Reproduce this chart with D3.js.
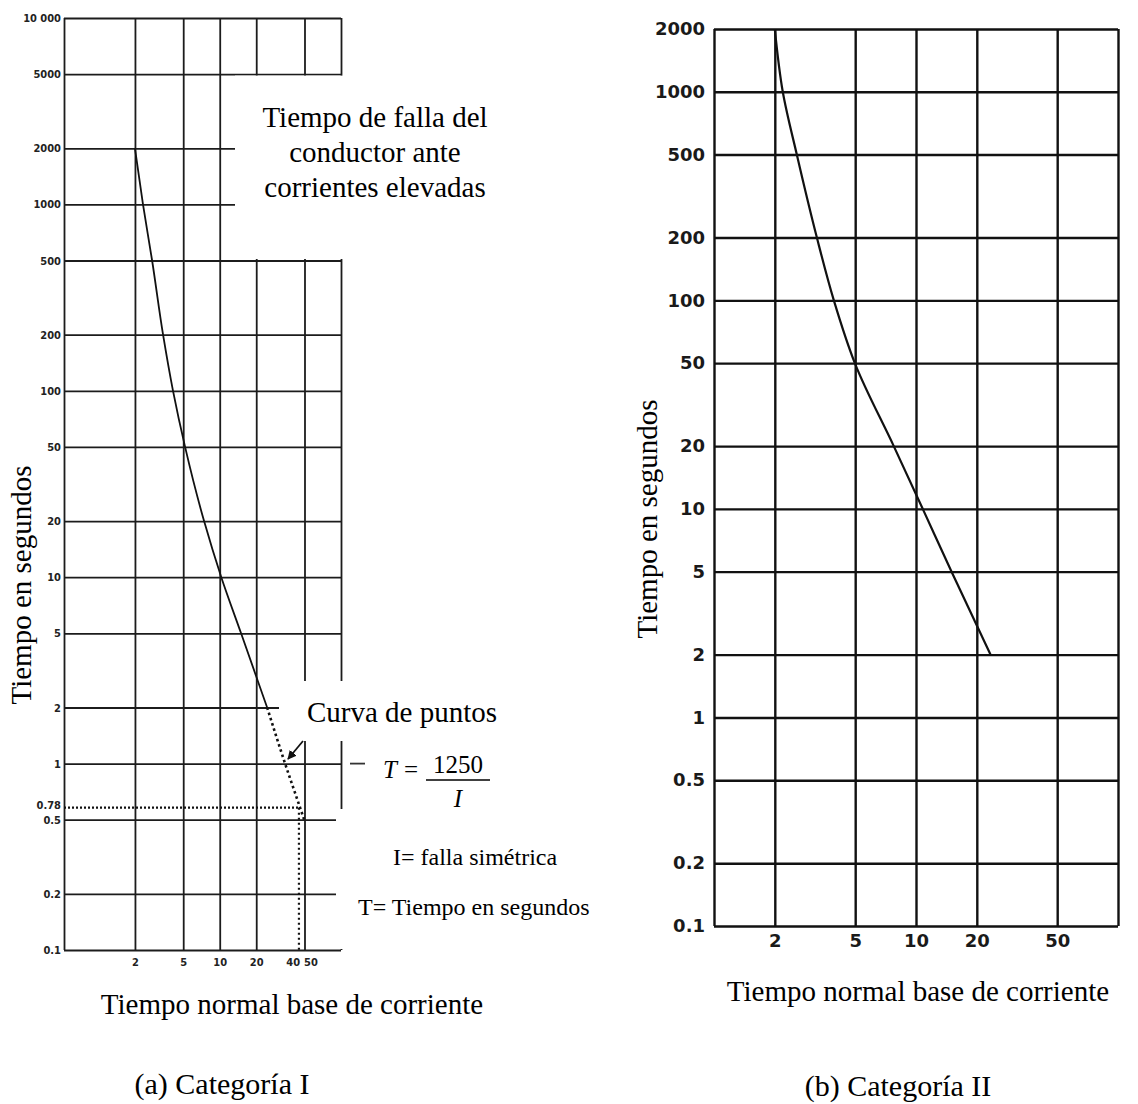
<!DOCTYPE html>
<html><head><meta charset="utf-8">
<script src="https://cdn.jsdelivr.net/npm/d3@7"></script>
<style>body{margin:0;background:#fff} svg{display:block}</style>
</head><body>
<svg id="c" width="1138" height="1104"></svg>
<script>
// ---------- DATA: Categoría I ----------
const gridTimesA = [10000,5000,2000,1000,500,200,100,50,20,10,5,2,1,0.5,0.2,0.1];
const timeLabelsA = ["10 000","5000","2000","1000","500","200","100","50","20","10","5","2","1","0.5","0.2","0.1"];
const gridCurrentsA = [2,5,10,20,50];
const currentLabelsA = [2,5,10,20,40,50];
const curveSolidA = [[2,2000],[2.33,1000],[2.77,500],[3.41,200],[4.12,100],[5.18,50],[7.43,20],[10.3,10],[15.0,5],[24.6,2]];
const curveDottedA = [[24.6,2],[34.6,1],[46,0.58],[49.7,0.5]];
const refCurrentA = 45;
const refTimeA = 0.58;
const refTimeLabelA = "0.78";

// ---------- DATA: Categoría II ----------
const gridTimesB = [2000,1000,500,200,100,50,20,10,5,2,1,0.5,0.2,0.1];
const timeLabelsB = ["2000","1000","500","200","100","50","20","10","5","2","1","0.5","0.2","0.1"];
const gridCurrentsB = [2,5,10,20,50];
const currentLabelsB = ["2","5","10","20","50"];
const curveB = [[2,2000],[2.19,1000],[2.57,500],[3.23,200],[3.92,100],[4.98,50],[7.76,20],[10.8,10],[15.0,5],[23.4,2]];

// ---------- TEXTS ----------
const yTitle = "Tiempo en segundos";
const xTitle = "Tiempo normal base de corriente";
const captionA = "(a) Categoría I";
const captionB = "(b) Categoría II";
const noteLines = ["Tiempo de falla del","conductor ante","corrientes elevadas"];
const dottedNote = "Curva de puntos";
const legendLines = ["I= falla simétrica","T= Tiempo en segundos"];

const svg = d3.select("#c");
const serif = "'Liberation Serif','Times New Roman',serif";
const condensed = "'DejaVu Sans Condensed','DejaVu Sans',sans-serif";

// ---------- SCALES ----------
const xA = d3.scaleLog().domain([0.52,100]).range([64,341]);
const yA = d3.scaleLog().domain([0.1,10000]).range([950,18]);
const xB = d3.scaleLog().domain([1,100]).range([714,1118]);
const yB = d3.scaleLog().domain([0.1,2000]).range([926,29]);

// ================= CHART A =================
const gA = svg.append("g");
const wA = xA.range()[1]-xA.range()[0];
const hA = yA.range()[0]-yA.range()[1];

const yAxA = gA.append("g").attr("transform",`translate(${xA.range()[0]},0)`)
  .call(d3.axisLeft(yA).tickValues(gridTimesA).tickFormat((d,i)=>timeLabelsA[i]).tickSize(-wA).tickPadding(3));
yAxA.select(".domain").remove();
yAxA.selectAll("line").attr("stroke","#1c1c1c").attr("stroke-width",1.8);
yAxA.selectAll("text").attr("font-family",condensed).attr("font-weight","bold").attr("font-size",11).attr("fill","#222");

const xGridA = gA.append("g").attr("transform",`translate(0,${yA.range()[0]})`)
  .call(d3.axisBottom(xA).tickValues([xA.domain()[0],...gridCurrentsA,xA.domain()[1]]).tickFormat("").tickSize(-hA));
xGridA.select(".domain").remove();
xGridA.selectAll("line").attr("stroke","#1c1c1c").attr("stroke-width",1.8);

const xLabA = gA.append("g").attr("transform",`translate(0,${yA.range()[0]})`)
  .call(d3.axisBottom(xA).tickValues(currentLabelsA).tickFormat(d3.format("d")).tickSize(0).tickPadding(8));
xLabA.select(".domain").remove();
xLabA.selectAll("text").attr("font-family",condensed).attr("font-weight","bold").attr("font-size",11).attr("fill","#222")
  .attr("dx",d=>d===50?6:0);

gA.append("line").attr("x1",xA(100)+9).attr("x2",xA(100)+24).attr("y1",yA(1)).attr("y2",yA(1))
  .attr("stroke","#333").attr("stroke-width",1.8);

// white annotation backgrounds (cover parts of the grid, as in the original)
const boxes = [[235,yA(5000)+1.5,300,yA(500)-yA(5000)-3],[279,681,235,60],[366,741,150,68],[336,809,270,140]];
gA.selectAll("rect.bg").data(boxes).join("rect").attr("class","bg")
  .attr("x",d=>d[0]).attr("y",d=>d[1]).attr("width",d=>d[2]).attr("height",d=>d[3]).attr("fill","#fff");

gA.append("line").attr("x1",xA.range()[0]).attr("x2",xA(refCurrentA)).attr("y1",yA(refTimeA)).attr("y2",yA(refTimeA))
  .attr("stroke","#111").attr("stroke-width",2.2).attr("stroke-dasharray","2,2");
gA.append("line").attr("x1",xA(refCurrentA)).attr("x2",xA(refCurrentA)).attr("y1",yA(refTimeA)).attr("y2",yA.range()[0])
  .attr("stroke","#111").attr("stroke-width",2.2).attr("stroke-dasharray","2,3");
gA.append("text").attr("x",xA.range()[0]-3).attr("y",yA(refTimeA)).attr("dy","0.1em").attr("text-anchor","end")
  .attr("font-family",condensed).attr("font-weight","bold").attr("font-size",11).attr("fill","#222").text(refTimeLabelA);

const lineA = d3.line().x(d=>xA(d[0])).y(d=>yA(d[1])).curve(d3.curveMonotoneY);
gA.append("path").attr("d",lineA(curveSolidA)).attr("fill","none").attr("stroke","#111").attr("stroke-width",1.8);
gA.append("path").attr("d",lineA(curveDottedA)).attr("fill","none").attr("stroke","#111").attr("stroke-width",2.6).attr("stroke-dasharray","2.5,3");

svg.append("defs").append("marker").attr("id","ah").attr("viewBox","0 0 10 10").attr("refX",9).attr("refY",5)
  .attr("markerWidth",5).attr("markerHeight",5).attr("orient","auto")
  .append("path").attr("d","M0,0L10,5L0,10z").attr("fill","#111");
gA.append("line").attr("x1",303).attr("y1",741).attr("x2",288).attr("y2",759)
  .attr("stroke","#111").attr("stroke-width",1.8).attr("marker-end","url(#ah)");

gA.selectAll("text.note").data(noteLines).join("text").attr("class","note")
  .attr("x",375).attr("y",(d,i)=>127+i*35).attr("text-anchor","middle")
  .attr("font-family",serif).attr("font-size",29).attr("fill","#000").text(d=>d);
gA.append("text").attr("x",307).attr("y",722).attr("font-family",serif).attr("font-size",29).text(dottedNote);

const fm = gA.append("g").attr("font-family",serif).attr("font-size",25).attr("fill","#000");
fm.append("text").attr("x",383).attr("y",778).attr("font-style","italic").text("T");
fm.append("text").attr("x",411).attr("y",778).attr("text-anchor","middle").text("=");
fm.append("text").attr("x",458).attr("y",773).attr("text-anchor","middle").text("1250");
fm.append("line").attr("x1",426).attr("x2",490).attr("y1",780).attr("y2",780).attr("stroke","#000").attr("stroke-width",1.3);
fm.append("text").attr("x",458).attr("y",807).attr("text-anchor","middle").attr("font-style","italic").text("I");

gA.selectAll("text.leg").data(legendLines).join("text").attr("class","leg")
  .attr("x",(d,i)=>i===0?393:358).attr("y",(d,i)=>865+i*50)
  .attr("font-family",serif).attr("font-size",24).text(d=>d);

gA.append("text").attr("transform","translate(31,585) rotate(-90)").attr("text-anchor","middle")
  .attr("font-family",serif).attr("font-size",29).text(yTitle);
gA.append("text").attr("x",292).attr("y",1014).attr("text-anchor","middle")
  .attr("font-family",serif).attr("font-size",29).text(xTitle);
gA.append("text").attr("x",222).attr("y",1094).attr("text-anchor","middle")
  .attr("font-family",serif).attr("font-size",30).text(captionA);

// ================= CHART B =================
const gB = svg.append("g");
const wB = xB.range()[1]-xB.range()[0];
const hB = yB.range()[0]-yB.range()[1];

const yAxB = gB.append("g").attr("transform",`translate(${xB.range()[0]},0)`)
  .call(d3.axisLeft(yB).tickValues(gridTimesB).tickFormat((d,i)=>timeLabelsB[i]).tickSize(-wB).tickPadding(9));
yAxB.select(".domain").remove();
yAxB.selectAll("line").attr("stroke","#111").attr("stroke-width",2.4);
yAxB.selectAll("text").attr("font-family","'DejaVu Sans',sans-serif").attr("font-weight","bold")
  .attr("font-size",18).attr("fill","#1a1a1a");

const xGridB = gB.append("g").attr("transform",`translate(0,${yB.range()[0]})`)
  .call(d3.axisBottom(xB).tickValues([xB.domain()[0],...gridCurrentsB,xB.domain()[1]]).tickFormat("").tickSize(-hB));
xGridB.select(".domain").remove();
xGridB.selectAll("line").attr("stroke","#111").attr("stroke-width",2.4);

const xLabB = gB.append("g").attr("transform",`translate(0,${yB.range()[0]})`)
  .call(d3.axisBottom(xB).tickValues(gridCurrentsB).tickFormat((d,i)=>currentLabelsB[i]).tickSize(0).tickPadding(8));
xLabB.select(".domain").remove();
xLabB.selectAll("text").attr("font-family","'DejaVu Sans',sans-serif").attr("font-weight","bold")
  .attr("font-size",18).attr("fill","#1a1a1a");

const lineB = d3.line().x(d=>xB(d[0])).y(d=>yB(d[1])).curve(d3.curveMonotoneY);
gB.append("path").attr("d",lineB(curveB)).attr("fill","none").attr("stroke","#111").attr("stroke-width",2.2);

gB.append("text").attr("transform","translate(657,519) rotate(-90)").attr("text-anchor","middle")
  .attr("font-family",serif).attr("font-size",29).text(yTitle);
gB.append("text").attr("x",918).attr("y",1001).attr("text-anchor","middle")
  .attr("font-family",serif).attr("font-size",29).text(xTitle);
gB.append("text").attr("x",898).attr("y",1096).attr("text-anchor","middle")
  .attr("font-family",serif).attr("font-size",30).text(captionB);
</script>
</body></html>
